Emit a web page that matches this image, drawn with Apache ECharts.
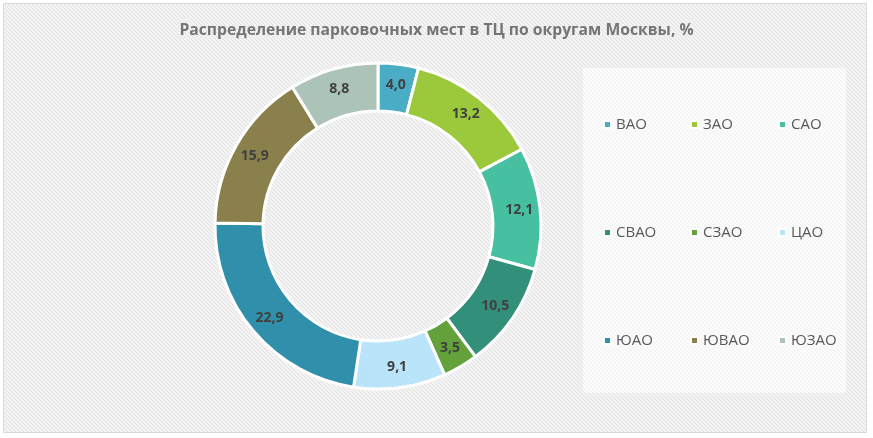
<!DOCTYPE html>
<html>
<head>
<meta charset="utf-8">
<script src="https://cdn.jsdelivr.net/npm/echarts@6/dist/echarts.min.js"></script>
<style>
  html, body { margin: 0; padding: 0; background: #fff; }
  #chart { width: 873px; height: 438px; }
</style>
</head>
<body>
<div id="chart"></div>
<script>
// данные
var districts = ['ВАО', 'ЗАО', 'САО', 'СВАО', 'СЗАО', 'ЦАО', 'ЮАО', 'ЮВАО', 'ЮЗАО'];
var shares = [4.0, 13.2, 12.1, 10.5, 3.5, 9.1, 22.9, 15.9, 8.8];
var colors = ['#4bacc6', '#9bc93b', '#47c0a2', '#32907a', '#63a23a', '#b9e4f9', '#3090ab', '#8a804b', '#acc3b8'];

// штриховка фона
function hatch(base, line) {
    var c = document.createElement('canvas');
    c.width = 4; c.height = 4;
    var ctx = c.getContext('2d');
    ctx.fillStyle = base;
    ctx.fillRect(0, 0, 4, 4);
    ctx.fillStyle = line;
    for (var i = 0; i < 4; i++) {
        ctx.fillRect(i, i, 1, 1);
    }
    return c;
}

var dom = document.getElementById('chart');
var myChart = echarts.init(dom);

var legendCols = [[], [], []];
districts.forEach(function (d, i) { legendCols[i % 3].push(d); });
var legendLeft = [598, 685, 773];

var option = {
    backgroundColor: '#fff',
    animation: false,
    color: colors,
    title: {
        text: 'Распределение парковочных мест в ТЦ по округам Москвы, %',
        left: 'center',
        top: 18,
        textStyle: {
            color: '#757575',
            fontSize: 15.7,
            fontWeight: 'bold',
            fontFamily: 'Open Sans'
        }
    },
    graphic: [
        {
            type: 'rect',
            z: -10,
            shape: { x: 3.5, y: 3.5, width: 863, height: 429 },
            style: {
                fill: { image: hatch('#f3f3f3', '#e1e1e1'), repeat: 'repeat' },
                stroke: '#d9d9d9',
                lineWidth: 1
            }
        },
        {
            type: 'rect',
            z: -9,
            shape: { x: 583, y: 68, width: 263, height: 325 },
            style: {
                fill: { image: hatch('#fbfbfb', '#f2f2f2'), repeat: 'repeat' }
            }
        }
    ],
    legend: legendCols.map(function (col, k) {
        return {
            orient: 'vertical',
            left: legendLeft[k],
            top: 112,
            itemGap: 93,
            icon: 'rect',
            itemWidth: 7,
            itemHeight: 7,
            selectedMode: false,
            data: col,
            textStyle: {
                color: '#595959',
                fontSize: 15,
                fontFamily: 'Open Sans'
            }
        };
    }),
    series: [
        {
            type: 'pie',
            center: [378, 226],
            radius: [115, 163],
            startAngle: 90,
            clockwise: true,
            avoidLabelOverlap: false,
            itemStyle: {
                borderColor: '#fff',
                borderWidth: 3
            },
            label: {
                show: true,
                position: 'inside',
                color: '#404040',
                fontSize: 14,
                fontWeight: 'bold',
                fontFamily: 'Open Sans',
                formatter: function (p) {
                    return p.value.toFixed(1).replace('.', ',');
                }
            },
            labelLine: { show: false },
            emphasis: { disabled: true },
            data: districts.map(function (d, i) {
                return { name: d, value: shares[i] };
            })
        }
    ]
};

if (option && typeof option === "object") {
    myChart.setOption(option, true);
}
window.onresize = function () {
    myChart.resize();
};
</script>
</body>
</html>
